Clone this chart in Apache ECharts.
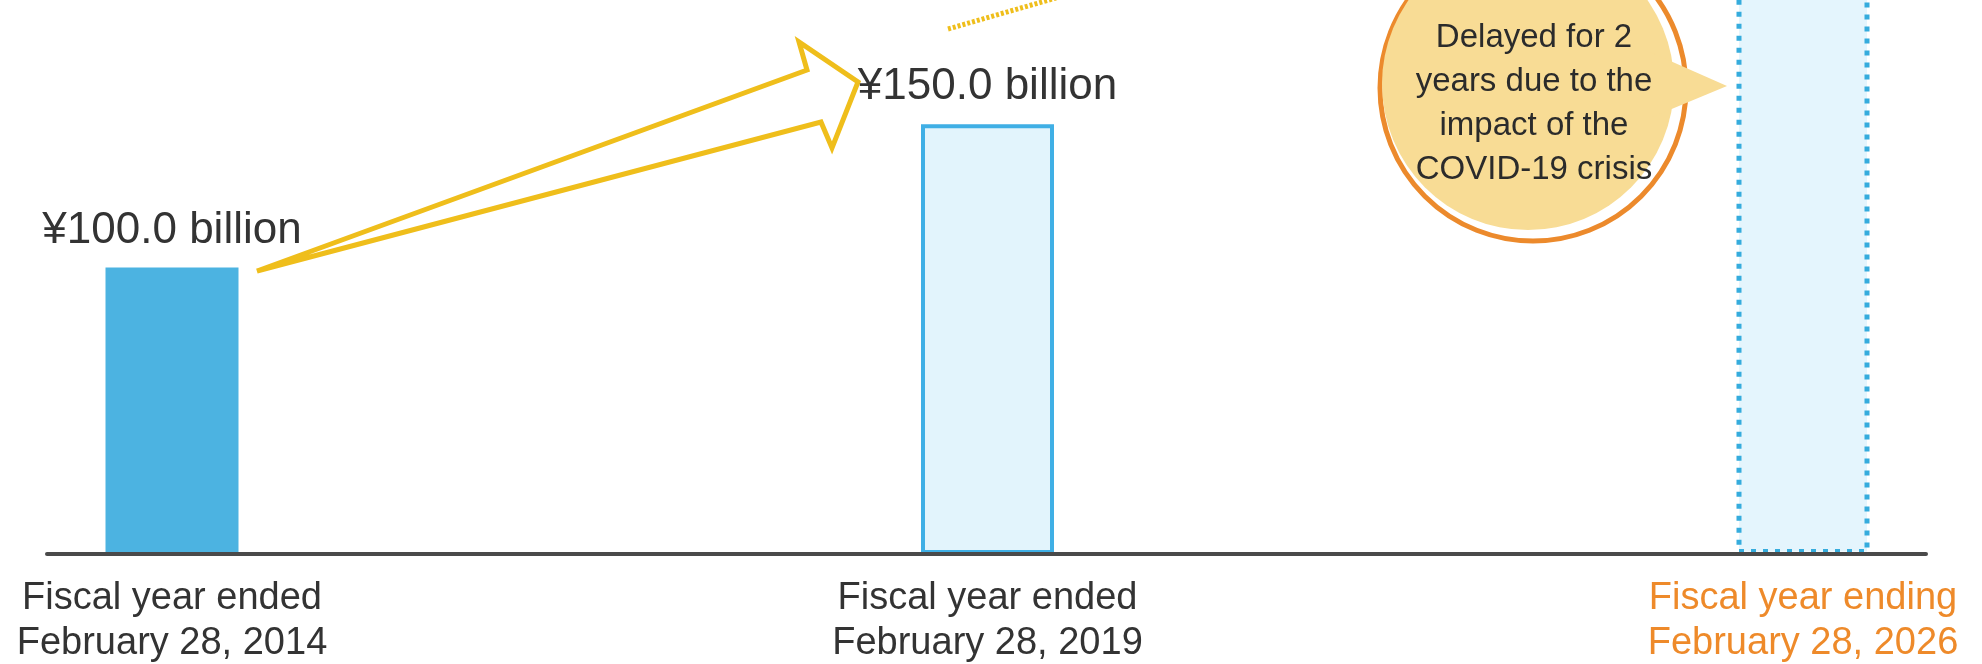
<!DOCTYPE html>
<html>
<head>
<meta charset="utf-8">
<script src="https://cdn.jsdelivr.net/npm/echarts@6/dist/echarts.min.js"></script>
<style>
  html, body { margin: 0; padding: 0; background: #ffffff; }
  #chart { width: 1982px; height: 664px; }
</style>
</head>
<body>
<div id="chart"></div>
<script>
// ---- data ----
const categories = [
  'Fiscal year ended\nFebruary 28, 2014',
  'Fiscal year ended\nFebruary 28, 2019',
  'Fiscal year ending\nFebruary 28, 2026'
];
const values = [100, 150, 200];           // ¥ billion (last bar runs off the top of the picture)
const showValueLabel = [true, true, false];
const categoryColors = ['#333333', '#333333', '#EE8A2A'];
const bubbleLines = ['Delayed for 2', 'years due to the', 'impact of the', 'COVID-19 crisis'];

// ---- styles ----
const FONT = 'Liberation Sans, Arial, sans-serif';
const barStyles = [
  { color: '#4CB3E1', borderWidth: 0 },
  { color: '#E2F4FC', borderColor: '#3FAFE5', borderWidth: 4 },
  { color: '#E4F5FD', borderColor: '#35ACDD', borderWidth: 5, borderType: [5, 7] }
];

const chart = echarts.init(document.getElementById('chart'));

const barData = values.map((v, i) => ({
  value: v,
  itemStyle: barStyles[i],
  label: { show: showValueLabel[i] }
}));

const option = {
  backgroundColor: '#ffffff',
  animation: false,
  grid: [
    { left: 172, right: 179, top: 0, bottom: 110, containLabel: false, outerBoundsMode: 'none' },
    { left: 47, right: 56, top: 0, bottom: 110, containLabel: false, outerBoundsMode: 'none' }
  ],
  xAxis: [
    {
      type: 'category',
      gridIndex: 0,
      data: categories,
      boundaryGap: false,
      axisLine: { show: false },
      axisTick: { show: false },
      splitLine: { show: false },
      axisLabel: {
        interval: 0,
        margin: 22,
        fontFamily: FONT,
        fontSize: 38,
        lineHeight: 45,
        hideOverlap: false,
        color: (val, idx) => categoryColors[idx]
      }
    },
    {
      type: 'value',
      gridIndex: 1,
      min: 0, max: 1,
      z: 10,
      axisLine: { show: true, lineStyle: { color: '#4A4A4A', width: 4 } },
      axisTick: { show: false },
      axisLabel: { show: false },
      splitLine: { show: false }
    }
  ],
  yAxis: [
    { type: 'value', gridIndex: 0, min: 0, max: 193.4, show: false, splitLine: { show: false } },
    { type: 'value', gridIndex: 1, min: 0, max: 1, show: false, splitLine: { show: false } }
  ],
  series: [
    {
      type: 'bar',
      xAxisIndex: 0,
      yAxisIndex: 0,
      barWidth: 133,
      clip: false,
      data: barData,
      label: {
        position: 'top',
        distance: 15,
        fontFamily: FONT,
        fontSize: 44,
        color: '#333333',
        formatter: p => '¥' + p.value.toFixed(1) + ' billion'
      }
    }
  ],
  graphic: [
    // hollow yellow arrow from first bar towards second label
    {
      type: 'polygon',
      z: 1,
      shape: { points: [[257, 271], [807, 70], [799, 42], [858, 82], [832, 148], [821, 122]] },
      style: { fill: 'none', stroke: '#EFBE1B', lineWidth: 5, lineJoin: 'miter' }
    },
    // dotted yellow stroke heading off the top
    {
      type: 'polyline',
      z: 1,
      shape: { points: [[948, 29], [1000, 14], [1056, -2]] },
      style: { stroke: '#EFBE1B', lineWidth: 5, lineDash: [3, 2], fill: 'none' }
    },
    // speech bubble: orange ring
    {
      type: 'circle',
      z: 5,
      shape: { cx: 1533, cy: 88, r: 153 },
      style: { fill: '#ffffff', stroke: '#EC8A2C', lineWidth: 5 }
    },
    // beige disk
    {
      type: 'circle',
      z: 6,
      shape: { cx: 1528, cy: 84, r: 146 },
      style: { fill: '#F8DC95' }
    },
    // pointer
    {
      type: 'polygon',
      z: 7,
      shape: { points: [[1650, 52], [1727, 86], [1650, 118]] },
      style: { fill: '#F8DC95' }
    },
    {
      type: 'text',
      z: 8,
      x: 1534,
      y: 104,
      style: {
        text: bubbleLines.join('\n'),
        align: 'center',
        verticalAlign: 'middle',
        fontFamily: FONT,
        fontSize: 33,
        lineHeight: 44,
        fill: '#2B2B2B'
      }
    }
  ]
};

chart.setOption(option);
</script>
</body>
</html>
